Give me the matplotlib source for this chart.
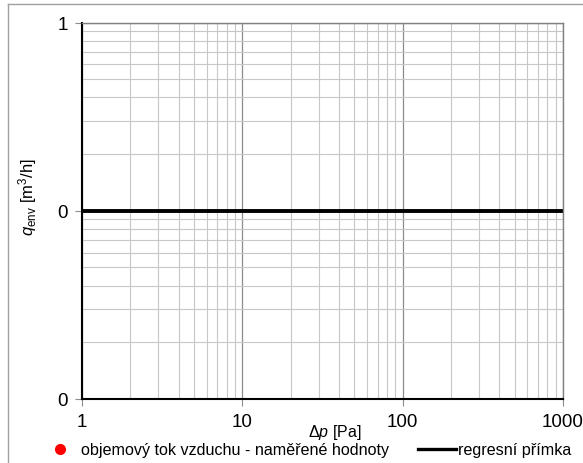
import matplotlib
matplotlib.use("Agg")
import matplotlib.pyplot as plt
from matplotlib.lines import Line2D
from matplotlib.ticker import FixedLocator, FixedFormatter, LogLocator, NullFormatter

plt.rcParams['font.family'] = ['Liberation Sans', 'DejaVu Sans']
plt.rcParams['mathtext.fontset'] = 'custom'
plt.rcParams['mathtext.rm'] = 'Liberation Sans'
plt.rcParams['mathtext.it'] = 'Liberation Sans:italic'

# measured air flow (no points recorded)
dp_measured = []
q_measured = []

# regression line
dp_fit = [1, 1000]
q_fit = [0.1, 0.1]

x_ticks = [1, 10, 100, 1000]
x_tick_labels = ["1", "10", "100", "1000"]
y_ticks = [0.01, 0.1, 1]
y_tick_labels = ["0", "0", "1"]

fig = plt.figure(figsize=(5.83, 4.64), dpi=100)
ax = fig.add_axes([82 / 583, 64 / 464, (563 - 82) / 583, (400 - 23.5) / 464])

ax.set_xscale('log')
ax.set_yscale('log')
ax.set_xlim(1, 1000)
ax.set_ylim(0.01, 1)

ax.xaxis.set_major_locator(FixedLocator(x_ticks))
ax.xaxis.set_major_formatter(FixedFormatter(x_tick_labels))
ax.yaxis.set_major_locator(FixedLocator(y_ticks))
ax.yaxis.set_major_formatter(FixedFormatter(y_tick_labels))
ax.xaxis.set_minor_locator(LogLocator(base=10, subs=range(2, 10)))
ax.yaxis.set_minor_locator(LogLocator(base=10, subs=range(2, 10)))
ax.xaxis.set_minor_formatter(NullFormatter())
ax.yaxis.set_minor_formatter(NullFormatter())

ax.grid(which='major', color='#8c8c8c', linewidth=0.9)
ax.grid(which='minor', color='#c8c8c8', linewidth=0.8)
ax.set_axisbelow(True)

ax.tick_params(which='major', direction='out', length=5, width=0.8, color='#8c8c8c',
               labelsize=13.5, pad=5)
ax.tick_params(which='minor', length=0)

for side in ('top', 'right'):
    ax.spines[side].set_color('#808080')
    ax.spines[side].set_linewidth(1.0)
for side in ('left', 'bottom'):
    ax.spines[side].set_color('black')
    ax.spines[side].set_linewidth(1.5)

ax.plot(dp_measured, q_measured, 'o', color='red', markersize=7, linestyle='none',
        label='objemový tok vzduchu - naměřené hodnoty')
ax.plot(dp_fit, q_fit, color='black', linewidth=2.8, solid_capstyle='butt',
        label='regresní přímka', clip_on=False)

ax.set_xlabel(r'$\Delta\mathit{p}$ [Pa]', fontsize=11.5)
ax.xaxis.set_label_coords((335 - 82) / (563 - 82), -0.062)
ax.set_ylabel(r'$\mathit{q}_{\mathrm{env}}$ [m$^3$/h]', fontsize=12)
ax.yaxis.set_label_coords(-(82 - 39) / (563 - 82), (400 - 197) / 376.5)

handles = [
    Line2D([], [], marker='o', color='red', markersize=7, linestyle='none'),
    Line2D([], [], color='black', linewidth=2.4),
]
labels = ['objemový tok vzduchu - naměřené hodnoty', 'regresní přímka']
fig.legend(handles, labels, loc='center left', bbox_to_anchor=(41 / 583, 1 - 451 / 464),
           ncol=2, frameon=False, fontsize=11.6, handlelength=2.4, handletextpad=0.1,
           columnspacing=1.75, borderpad=0, borderaxespad=0)

# outer frame of the chart area
fig.add_artist(Line2D([8 / 583, 8 / 583], [0, 1 - 5 / 464], transform=fig.transFigure,
                      color='#a0a0a0', linewidth=1.0))
fig.add_artist(Line2D([8 / 583, 1], [1 - 5 / 464, 1 - 5 / 464], transform=fig.transFigure,
                      color='#a0a0a0', linewidth=1.0))

fig.savefig('out.png', dpi=100)
